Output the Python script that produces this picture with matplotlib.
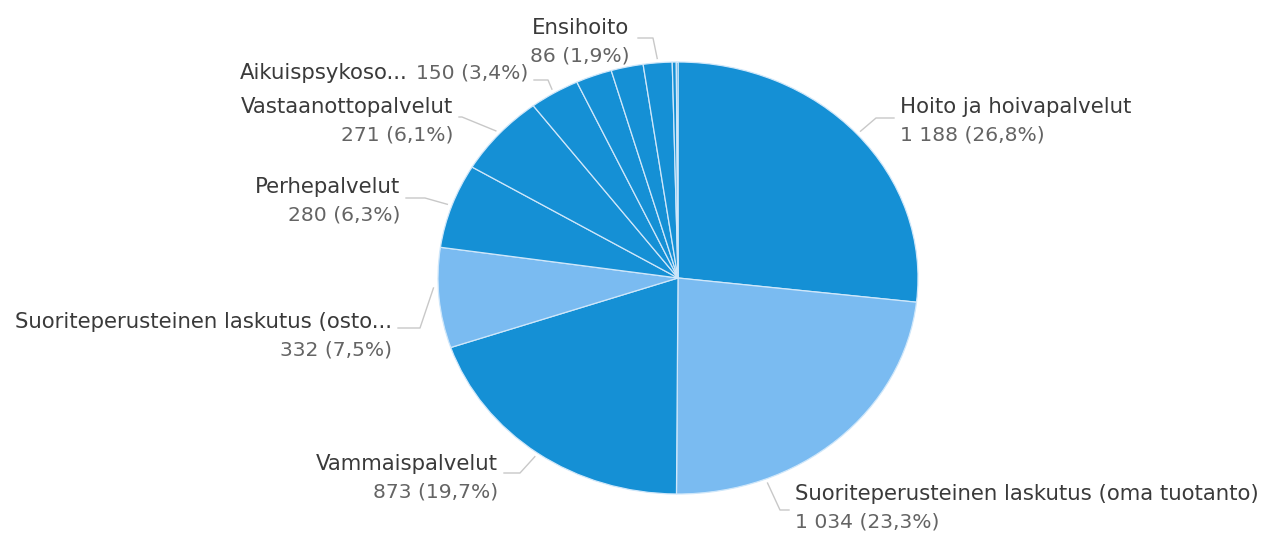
import numpy as np
import matplotlib
matplotlib.use("Agg")
import matplotlib.pyplot as plt

# slice data, clockwise from 12 o'clock
categories = ["Hoito ja hoivapalvelut", "Suoriteperusteinen laskutus (oma tuotanto)",
              "Vammaispalvelut", "Suoriteperusteinen laskutus (osto...",
              "Perhepalvelut", "Vastaanottopalvelut", "Aikuispsykoso...",
              "Muu 1", "Muu 2", "Ensihoito", "Muu 3", "Muu 4"]
values = [1188, 1034, 873, 332, 280, 271, 150, 108, 96, 86, 12, 5]
dark = "#1590d5"
light = "#7abbf1"
slice_colors = [dark, light, dark, light, dark, dark, dark, dark, dark, dark, dark, dark]

W, H = 1268, 533
cx, cy, rx, ry = 678, 278, 240, 216   # pie ellipse in pixels

fig = plt.figure(figsize=(W / 100, H / 100), dpi=100)
ax = fig.add_axes([(cx - rx) / W, (H - cy - ry) / H, 2 * rx / W, 2 * ry / H])
ax.pie(values, colors=slice_colors, startangle=90, counterclock=False, radius=1,
       wedgeprops=dict(edgecolor="#cfe7fa", linewidth=0.9))
ax.set_aspect("auto")
ax.set_xlim(-1, 1)
ax.set_ylim(-1, 1)
ax.axis("off")

# overlay in pixel coordinates for labels and leader lines
ov = fig.add_axes([0, 0, 1, 1])
ov.set_xlim(0, W)
ov.set_ylim(H, 0)
ov.axis("off")

total = sum(values)
cum = np.concatenate([[0], np.cumsum(values)]) / total

def fmt_value(v):
    return f"{v:,}".replace(",", " ") + f" ({100 * v / total:.1f}%)".replace(".", ",")

name_col = "#3a3a3a"
val_col = "#646464"
fs = 15.3
fs_val = 14.6
lead_col = "#c8c8c8"

def edge_point(i, frac):
    a = np.pi / 2 - 2 * np.pi * (cum[i] + frac * (cum[i + 1] - cum[i]))
    return cx + 1.02 * rx * np.cos(a), cy - 1.02 * ry * np.sin(a)

# label layout: index, x, y, ha, frac along slice for leader start, bend point
labels = [
    (0, 900, 107, "left", 0.5, (876, 118)),
    (1, 795, 494, "left", 0.74, (780, 510)),
    (2, 498, 464, "right", 0.5, (520, 473)),
    (3, 392, 322, "right", 0.6, (420, 328)),
    (4, 400, 187, "right", 0.5, (425, 198)),
    (5, 453, 107, "right", 0.5, (462, 117)),
]
for i, x, y, ha, frac, bend in labels:
    ov.text(x, y, categories[i], ha=ha, va="center", fontsize=fs, color=name_col)
    ov.text(x, y + 28, fmt_value(values[i]), ha=ha, va="center", fontsize=fs_val, color=val_col)
    sx, sy = edge_point(i, frac)
    ex = x + (-6 if ha == "left" else 6)
    ov.plot([sx, bend[0], ex], [sy, bend[1], bend[1]], color=lead_col, lw=1)

# Aikuispsykoso: single line, name + value
i = 6
ov.text(408, 73, categories[i], ha="right", va="center", fontsize=fs, color=name_col)
ov.text(528, 73, fmt_value(values[i]), ha="right", va="center", fontsize=fs_val, color=val_col)
sx, sy = edge_point(i, 0.5)
ov.plot([sx, 548, 534], [sy, 80, 80], color=lead_col, lw=1)

# Ensihoito
i = 9
ov.text(532, 28, categories[i], ha="left", va="center", fontsize=fs, color=name_col)
ov.text(530, 56, fmt_value(values[i]), ha="left", va="center", fontsize=fs_val, color=val_col)
sx, sy = edge_point(i, 0.5)
ov.plot([sx, 653, 638], [sy, 38, 38], color=lead_col, lw=1)

fig.savefig("out.png", dpi=100, facecolor="white")
